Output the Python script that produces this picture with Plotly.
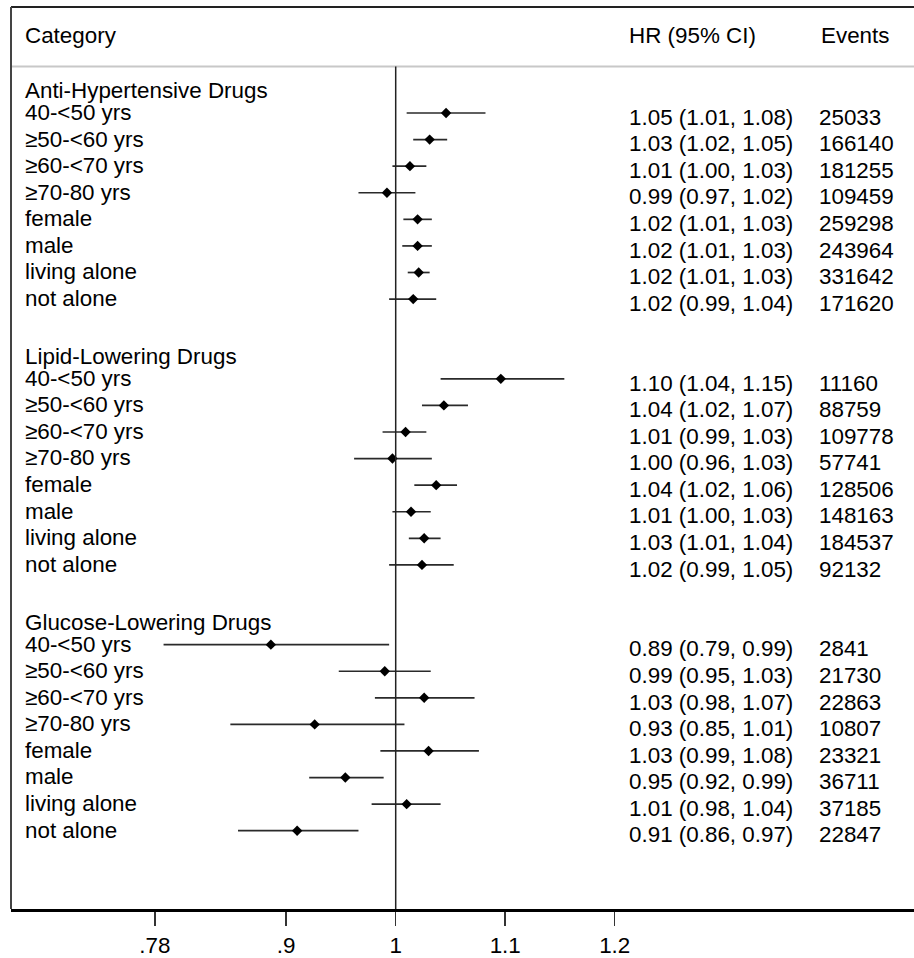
import plotly.graph_objects as go

# ---------------- data ----------------
groups = ["Anti-Hypertensive Drugs", "Lipid-Lowering Drugs", "Glucose-Lowering Drugs"]
subgroups = ["40-<50 yrs", "≥50-<60 yrs", "≥60-<70 yrs", "≥70-80 yrs",
             "female", "male", "living alone", "not alone"]

ah_hr = [1.046, 1.031, 1.013, 0.992, 1.020, 1.020, 1.021, 1.016]
ah_lo = [1.010, 1.016, 0.997, 0.966, 1.007, 1.006, 1.011, 0.994]
ah_hi = [1.082, 1.047, 1.028, 1.018, 1.033, 1.033, 1.031, 1.037]
ah_events = [25033, 166140, 181255, 109459, 259298, 243964, 331642, 171620]

ll_hr = [1.096, 1.044, 1.009, 0.997, 1.037, 1.014, 1.026, 1.024]
ll_lo = [1.041, 1.024, 0.988, 0.962, 1.017, 0.997, 1.012, 0.994]
ll_hi = [1.154, 1.066, 1.028, 1.033, 1.056, 1.032, 1.041, 1.053]
ll_events = [11160, 88759, 109778, 57741, 128506, 148163, 184537, 92132]

gl_hr = [0.886, 0.990, 1.026, 0.926, 1.030, 0.954, 1.010, 0.910]
gl_lo = [0.788, 0.948, 0.981, 0.849, 0.986, 0.921, 0.978, 0.856]
gl_hi = [0.994, 1.032, 1.072, 1.008, 1.076, 0.989, 1.041, 0.966]
gl_events = [2841, 21730, 22863, 10807, 23321, 36711, 37185, 22847]

tick_vals = [0.78, 0.9, 1.0, 1.1, 1.2]
tick_text = [".78", ".9", "1", "1.1", "1.2"]

# ---------------- assemble ----------------
all_hr = [ah_hr, ll_hr, gl_hr]
all_lo = [ah_lo, ll_lo, gl_lo]
all_hi = [ah_hi, ll_hi, gl_hi]
all_ev = [ah_events, ll_events, gl_events]

hr, lo, hi, ev, labels, ypos, head_y = [], [], [], [], [], [], []
for g in range(len(groups)):
    base = g * 10
    head_y.append(base)
    for j in range(len(subgroups)):
        hr.append(all_hr[g][j]); lo.append(all_lo[g][j]); hi.append(all_hi[g][j])
        ev.append(all_ev[g][j]); labels.append(subgroups[j])
        ypos.append(base + 1 + j)

hr_text = [f"{h:.2f} ({l:.2f}, {u:.2f})" for h, l, u in zip(hr, lo, hi)]
ev_text = [str(e) for e in ev]

# pixel layout helpers
X0PX, PXPU = 395.7, 1095.0          # px of x=1, px per unit
def xpx(px):
    return 1 + (px - X0PX) / PXPU

FONT = "Liberation Sans, Arial, sans-serif"
FS = 22.4
LAB_OFF = 0.05   # row label vertical offset (rows)
COL_OFF = 0.23   # right columns / group headers offset
YTOP, YBOT = -2.988, 30.945

fig = go.Figure()

# CI lines + diamonds
fig.add_trace(go.Scatter(
    x=hr, y=ypos, mode="markers",
    marker=dict(symbol="diamond", size=8, color="black"),
    error_x=dict(type="data", symmetric=False,
                 array=[u - h for h, u in zip(hr, hi)],
                 arrayminus=[h - l for h, l in zip(hr, lo)],
                 width=0, thickness=1.7, color="#2a2a2a"),
    hoverinfo="skip"))

# text columns
fig.add_trace(go.Scatter(
    x=[xpx(25)] * len(labels), y=[y + LAB_OFF for y in ypos], mode="text",
    text=labels, textposition="middle right",
    textfont=dict(family=FONT, size=FS, color="black"), hoverinfo="skip"))
fig.add_trace(go.Scatter(
    x=[xpx(25)] * len(groups), y=[y + COL_OFF for y in head_y], mode="text",
    text=groups, textposition="middle right",
    textfont=dict(family=FONT, size=FS, color="black"), hoverinfo="skip"))
fig.add_trace(go.Scatter(
    x=[xpx(629)] * len(hr_text), y=[y + COL_OFF for y in ypos], mode="text",
    text=hr_text, textposition="middle right",
    textfont=dict(family=FONT, size=FS, color="black"), hoverinfo="skip"))
fig.add_trace(go.Scatter(
    x=[xpx(819)] * len(ev_text), y=[y + COL_OFF for y in ypos], mode="text",
    text=ev_text, textposition="middle right",
    textfont=dict(family=FONT, size=FS, color="black"), hoverinfo="skip"))
# header row
fig.add_trace(go.Scatter(
    x=[xpx(25), xpx(629), xpx(821)], y=[-1.83] * 3, mode="text",
    text=["Category", "HR (95% CI)", "Events"], textposition="middle right",
    textfont=dict(family=FONT, size=FS, color="black"), hoverinfo="skip"))

shapes = [
    # header separator
    dict(type="line", xref="paper", yref="y", x0=0, x1=1, y0=-0.75, y1=-0.75,
         line=dict(color="#c8c8c8", width=2)),
    # null line
    dict(type="line", xref="x", yref="paper", x0=1, x1=1, y0=0,
         y1=(YBOT + 0.75) / (YBOT - YTOP),
         line=dict(color="#222222", width=1.5)),
    # frame top and left
    dict(type="line", xref="paper", yref="paper", x0=0, x1=1, y0=1, y1=1,
         line=dict(color="#222222", width=2)),
    dict(type="line", xref="paper", yref="paper", x0=0, x1=0, y0=0, y1=1,
         line=dict(color="#444444", width=2)),
]

fig.update_layout(
    width=914, height=958,
    margin=dict(l=11, r=0, t=7, b=46),
    paper_bgcolor="white", plot_bgcolor="white",
    showlegend=False,
    shapes=shapes,
    font=dict(family=FONT, size=FS, color="black"),
    xaxis=dict(range=[xpx(11), xpx(914)], showgrid=False, zeroline=False,
               tickmode="array", tickvals=tick_vals, ticktext=tick_text,
               ticks="outside", ticklen=14, tickwidth=1.5, tickcolor="#333333",
               showline=True, linewidth=3, linecolor="black",
               tickfont=dict(family=FONT, size=FS, color="black")),
    yaxis=dict(range=[YBOT, YTOP], visible=False),
)

fig.write_html("out.html",
               config={"displayModeBar": False, "staticPlot": True},
               post_script="document.body.style.margin='0px';"
                           "document.body.style.overflow='hidden';")
